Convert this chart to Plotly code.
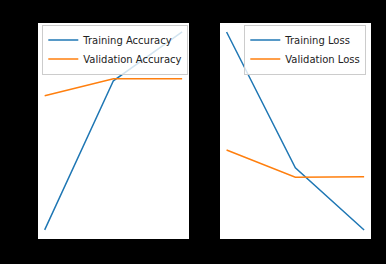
import plotly.graph_objects as go

epochs = [0, 1, 2]
train_acc = [0.563, 0.853, 0.948]
val_acc = [0.824, 0.857, 0.857]
train_loss = [0.541, 0.191, 0.031]
val_loss = [0.237, 0.167, 0.168]
titles = ["Training and Validation Accuracy", "Training and Validation Loss"]

W, H = 386, 264
BLUE = "#1f77b4"
ORANGE = "#ff7f0e"

fig = go.Figure()
fig.add_trace(go.Scatter(x=epochs, y=train_acc, mode="lines", name="Training Accuracy",
                         line=dict(color=BLUE, width=1.5), xaxis="x", yaxis="y", legend="legend"))
fig.add_trace(go.Scatter(x=epochs, y=val_acc, mode="lines", name="Validation Accuracy",
                         line=dict(color=ORANGE, width=1.5), xaxis="x", yaxis="y", legend="legend"))
fig.add_trace(go.Scatter(x=epochs, y=train_loss, mode="lines", name="Training Loss",
                         line=dict(color=BLUE, width=1.5), xaxis="x2", yaxis="y2", legend="legend2"))
fig.add_trace(go.Scatter(x=epochs, y=val_loss, mode="lines", name="Validation Loss",
                         line=dict(color=ORANGE, width=1.5), xaxis="x2", yaxis="y2", legend="legend2"))

ydom = [(H - 239.3) / H, (H - 22.7) / H]
axis_common = dict(showgrid=False, zeroline=False, ticks="outside", ticklen=3.5,
                   tickcolor="black", tickfont=dict(color="black", size=10),
                   showline=True, linecolor="black", linewidth=0.8, mirror=True,
                   automargin=False)

fig.update_layout(
    width=W, height=H,
    margin=dict(l=0, r=0, t=0, b=0, pad=0),
    paper_bgcolor="black", plot_bgcolor="white",
    font=dict(family="DejaVu Sans", size=10, color="#222"),
    xaxis=dict(domain=[37.8 / W, 189 / W], range=[-0.1, 2.1], anchor="y", **axis_common),
    yaxis=dict(domain=ydom, range=[0.5447, 0.966], anchor="x", dtick=0.05, **axis_common),
    xaxis2=dict(domain=[219.7 / W, 371 / W], range=[-0.1, 2.1], anchor="y2", **axis_common),
    yaxis2=dict(domain=ydom, range=[0.007, 0.565], anchor="x2", dtick=0.1, **axis_common),
    legend=dict(x=42.3 / W, y=1 - 24.5 / H, xanchor="left", yanchor="top",
                bgcolor="rgba(255,255,255,0.8)", bordercolor="#cccccc", borderwidth=1,
                font=dict(size=10, color="#222"), itemwidth=30, tracegroupgap=0),
    legend2=dict(x=366.3 / W, y=1 - 24.5 / H, xanchor="right", yanchor="top",
                 bgcolor="rgba(255,255,255,0.8)", bordercolor="#cccccc", borderwidth=1,
                 font=dict(size=10, color="#222"), itemwidth=30, tracegroupgap=0),
    annotations=[
        dict(text=titles[0], x=(37.8 + 189) / 2 / W, y=1 - 19 / H,
             xref="paper", yref="paper", xanchor="center", yanchor="bottom",
             showarrow=False, font=dict(size=11, color="black")),
        dict(text=titles[1], x=(219.7 + 371) / 2 / W, y=1 - 19 / H,
             xref="paper", yref="paper", xanchor="center", yanchor="bottom",
             showarrow=False, font=dict(size=11, color="black")),
    ],
)

fig.write_html("out.html")
